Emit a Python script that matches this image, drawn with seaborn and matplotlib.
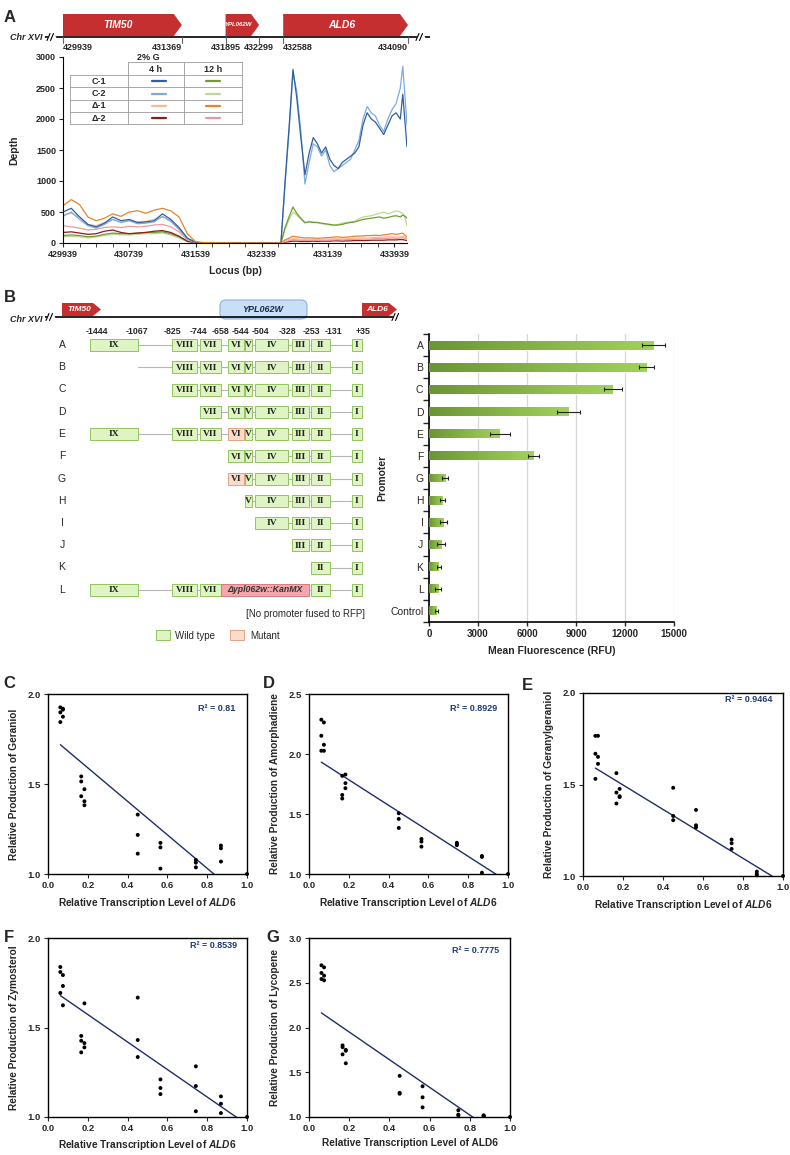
import numpy as np
import pandas as pd
import matplotlib
matplotlib.use('Agg')
import matplotlib.pyplot as plt
import seaborn as sns
from matplotlib.patches import Polygon, Rectangle, FancyBboxPatch
from matplotlib.colors import LinearSegmentedColormap

W, H = 790, 1155

# ---------------- A: read depth around ALD6 ----------------
locus = [429939, 430039, 430139, 430239, 430339, 430439, 430539, 430639, 430739, 430839,
         430939, 431039, 431139, 431239, 431339, 431439, 431539,
         431639, 431839, 432039, 432239, 432439, 432569,
         432619, 432669, 432714, 432759, 432809, 432859, 432909, 432959,
         433009, 433059, 433109, 433159, 433209, 433259, 433309, 433359, 433409, 433459,
         433509, 433559, 433609, 433659, 433709, 433759, 433809, 433859, 433909, 433959,
         434009, 434039, 434069, 434090]

c1_4h = [500, 560, 420, 300, 260, 320, 420, 360, 380, 330, 340, 360, 470, 380, 250, 80, 10,
         5, 3, 2, 1, 1, 2,
         1000, 1900, 2800, 2350, 1700, 1100, 1450, 1700, 1600, 1450, 1550, 1350, 1250, 1200,
         1300, 1350, 1400, 1450, 1550, 1900, 2100, 2000, 1950, 1850, 1750, 1900, 2050, 2100,
         2000, 2400, 1900, 1550]
c2_4h = [430, 500, 380, 280, 240, 300, 380, 330, 360, 310, 320, 340, 430, 350, 220, 70, 8,
         4, 2, 1, 1, 1, 2,
         950, 1850, 2750, 2450, 1800, 950, 1300, 1600, 1550, 1400, 1500, 1250, 1150, 1200,
         1250, 1300, 1350, 1500, 1650, 2000, 2200, 2100, 2050, 1900, 1800, 2000, 2150, 2250,
         2500, 2850, 2300, 1900]
d1_4h = [460, 480, 420, 300, 280, 330, 380, 340, 360, 340, 350, 380, 420, 360, 220, 70, 8,
         4, 2, 1, 1, 1, 1,
         30, 55, 70, 70, 60, 55, 60, 60, 55, 60, 60, 65, 70, 70, 65, 70, 75, 80, 80, 85,
         80, 85, 90, 90, 95, 100, 100, 95, 100, 110, 90, 80]
d2_4h = [170, 180, 160, 140, 150, 190, 210, 170, 150, 160, 170, 190, 200, 170, 110, 30, 3,
         2, 1, 1, 0, 0, 1,
         12, 22, 30, 30, 25, 25, 25, 30, 25, 30, 30, 30, 35, 35, 30, 35, 35, 40, 40, 40,
         40, 45, 45, 45, 45, 50, 50, 50, 55, 55, 45, 40]
c1_12h = [120, 130, 120, 100, 110, 140, 160, 150, 150, 160, 170, 170, 180, 150, 100, 30, 3,
          2, 1, 1, 0, 0, 1,
          250, 430, 580, 480, 400, 330, 340, 330, 330, 320, 310, 300, 290, 290, 300, 320,
          330, 340, 360, 380, 390, 400, 410, 420, 400, 410, 430, 440, 420, 450, 430, 400]
c2_12h = [100, 110, 100, 80, 100, 120, 140, 130, 130, 140, 150, 150, 160, 130, 80, 20, 2,
          1, 1, 0, 0, 0, 1,
          220, 380, 500, 450, 380, 320, 350, 340, 330, 310, 300, 290, 280, 300, 320, 330,
          340, 350, 390, 420, 430, 440, 460, 480, 500, 470, 490, 520, 500, 480, 400, 280]
d1_12h = [600, 700, 620, 420, 360, 400, 470, 430, 500, 520, 480, 530, 560, 520, 420, 150, 20,
          8, 4, 2, 1, 1, 3,
          50, 80, 110, 100, 90, 80, 85, 80, 75, 80, 85, 90, 95, 100, 90, 95, 100, 110, 110,
          115, 120, 120, 125, 120, 130, 140, 150, 140, 150, 160, 120, 100]
d2_12h = [280, 260, 240, 210, 220, 250, 260, 250, 270, 260, 270, 290, 300, 260, 180, 50, 5,
          3, 2, 1, 0, 0, 1,
          25, 40, 55, 50, 45, 40, 45, 45, 40, 45, 45, 50, 50, 55, 50, 55, 55, 60, 60, 65,
          60, 65, 70, 70, 70, 75, 80, 75, 80, 85, 70, 60]

strains = ['C-1', 'C-2', 'Δ-1', 'Δ-2']
depth_4h = [c1_4h, c2_4h, d1_4h, d2_4h]
depth_12h = [c1_12h, c2_12h, d1_12h, d2_12h]
colors_4h = ['#2f5f9e', '#7eaae2', '#f6bd92', '#8a1d1d']
colors_12h = ['#6f9c34', '#c0d895', '#e6832e', '#ea9a9e']

genes = ['TIM50', 'YPL062W', 'ALD6']
gene_start = [429939, 431895, 432588]
gene_end = [431369, 432299, 434090]
gene_ticks = [429939, 431369, 431895, 432299, 432588, 434090]

# ---------------- B: promoter truncations ----------------
promoters = ['A', 'B', 'C', 'D', 'E', 'F', 'G', 'H', 'I', 'J', 'K', 'L', 'Control']
fluor_mean = [13730, 13330, 11250, 8550, 4330, 6390, 980, 820, 880, 740, 610, 570, 470]
fluor_err = [690, 450, 560, 690, 620, 350, 200, 170, 200, 220, 140, 190, 80]

constructs = {
    'A': ['IX', 'VIII', 'VII', 'VI', 'V', 'IV', 'III', 'II', 'I'],
    'B': ['VIII', 'VII', 'VI', 'V', 'IV', 'III', 'II', 'I'],
    'C': ['VIII', 'VII', 'VI', 'V', 'IV', 'III', 'II', 'I'],
    'D': ['VII', 'VI', 'V', 'IV', 'III', 'II', 'I'],
    'E': ['IX', 'VIII', 'VII', 'VI*', 'V', 'IV', 'III', 'II', 'I'],
    'F': ['VI', 'V', 'IV', 'III', 'II', 'I'],
    'G': ['VI*', 'V', 'IV', 'III', 'II', 'I'],
    'H': ['V', 'IV', 'III', 'II', 'I'],
    'I': ['IV', 'III', 'II', 'I'],
    'J': ['III', 'II', 'I'],
    'K': ['II', 'I'],
    'L': ['IX', 'VIII', 'VII', 'KAN', 'II', 'I'],
}
promoter_pos = ['-1444', '-1067', '-825', '-744', '-658', '-544', '-504', '-328', '-253', '-131', '+35']

# ---------------- C-G: production vs ALD6 transcription ----------------
ald6_level = [0.062, 0.062, 0.062, 0.075, 0.075, 0.075, 0.167, 0.167, 0.167,
              0.183, 0.183, 0.183, 0.451, 0.451, 0.451, 0.565, 0.565, 0.565,
              0.743, 0.743, 0.743, 0.869, 0.869, 0.869, 1.0]
geraniol = [1.926, 1.898, 1.844, 1.918, 1.913, 1.874, 1.542, 1.514, 1.432,
            1.471, 1.404, 1.382, 1.330, 1.217, 1.113, 1.173, 1.148, 1.030,
            1.078, 1.063, 1.037, 1.158, 1.143, 1.069, 1.0]
amorphadiene = [2.286, 2.152, 2.027, 2.263, 2.077, 2.027, 1.818, 1.659, 1.629,
                1.829, 1.757, 1.715, 1.506, 1.459, 1.384, 1.292, 1.270, 1.228,
                1.260, 1.250, 1.240, 1.150, 1.142, 1.011, 1.0]
geranylgeraniol = [1.766, 1.668, 1.531, 1.766, 1.651, 1.613, 1.562, 1.456, 1.396,
                   1.476, 1.436, 1.431, 1.482, 1.328, 1.305, 1.361, 1.277, 1.266,
                   1.199, 1.179, 1.148, 1.024, 1.011, 1.004, 1.0]
zymosterol = [1.838, 1.810, 1.693, 1.793, 1.732, 1.624, 1.453, 1.426, 1.361,
              1.635, 1.413, 1.389, 1.667, 1.430, 1.335, 1.210, 1.162, 1.128,
              1.283, 1.173, 1.032, 1.115, 1.074, 1.022, 1.0]
lycopene = [2.695, 2.609, 2.542, 2.672, 2.579, 2.527, 1.800, 1.780, 1.700,
            1.750, 1.740, 1.600, 1.460, 1.270, 1.260, 1.343, 1.220, 1.108,
            1.075, 1.026, 1.018, 1.019, 1.011, 1.011, 1.0]
# trend lines as drawn in the figure: (slope, intercept)
fit_geraniol = (-0.931, 1.776)
fit_amorphadiene = (-1.064, 1.998)
fit_geranylgeraniol = (-0.668, 1.631)
fit_zymosterol = (-0.768, 1.726)
fit_lycopene = (-1.546, 2.259)


sns.set_style('ticks')
plt.rcParams['font.family'] = ['Liberation Sans', 'DejaVu Sans']
plt.rcParams['mathtext.fontset'] = 'custom'
plt.rcParams['mathtext.it'] = 'Liberation Sans:italic:bold'
plt.rcParams['mathtext.rm'] = 'Liberation Sans:bold'
plt.rcParams['mathtext.bf'] = 'Liberation Sans:bold'
plt.rcParams['axes.edgecolor'] = 'black'

fig = plt.figure(figsize=(W / 100, H / 100), dpi=100)


def px_axes(left, top, right, bottom):
    return fig.add_axes([left / W, 1 - bottom / H, (right - left) / W, (bottom - top) / H])


# overlay in pixel coordinates for the schematics
ov = fig.add_axes([0, 0, 1, 1])
ov.set_xlim(0, W)
ov.set_ylim(H, 0)
ov.axis('off')
ov.set_zorder(10)

BOLD = dict(fontweight='bold')


def chr_line(y, x0, x1, breaks):
    ov.plot([x0, x1], [y, y], color='black', lw=1.2, solid_capstyle='butt')
    for xb in breaks:
        ov.plot([xb - 2.5, xb + 2.5], [y, y], color='white', lw=2.5)
        for dx in (-2.5, 1.0):
            ov.plot([xb + dx - 1.5, xb + dx + 1.5], [y + 3.5, y - 3.5], color='black', lw=0.8)


def arrow_patch(ax, x0, x1, y0, y1, tip, color):
    ym = (y0 + y1) / 2
    pts = [(x0, y0), (x1 - tip, y0), (x1, ym), (x1 - tip, y1), (x0, y1)]
    ax.add_patch(Polygon(pts, closed=True, fc=color, ec='none', clip_on=False))


# ---------------- panel A: gene track ----------------
ov.text(4, 18, 'A', fontsize=12, va='center', **BOLD)
ov.text(26, 38, 'Chr XVI', fontsize=6.5, style='italic', ha='center', va='center', **BOLD)
chr_line(37, 45, 430, [51, 420])

axg = px_axes(63, 5, 408, 60)
axg.set_xlim(429939, 434090)
axg.set_ylim(60, 5)
axg.axis('off')
axg.set_zorder(11)
tip_bp = 8 * (434090 - 429939) / 345
for g, s, e in zip(genes, gene_start, gene_end):
    arrow_patch(axg, s, e, 14, 36, tip_bp, '#c62f2f')
    small = g == 'YPL062W'
    axg.text((s + e - tip_bp) / 2, 25, g, color='white', ha='center', va='center',
             fontsize=4.3 if small else 7.5, style='italic', **BOLD)
tick_align = ['left', 'right', 'center', 'center', 'left', 'right']
for t, al in zip(gene_ticks, tick_align):
    axg.plot([t, t], [37, 43], color='#666666', lw=0.8, clip_on=False)
    axg.text(t, 48, str(t), ha=al, va='center', fontsize=6.5, **BOLD)

# ---------------- panel A: depth plot ----------------
axA = px_axes(63, 57, 407, 243)
rows = []
for name, d4, d12 in zip(strains, depth_4h, depth_12h):
    for loc, v in zip(locus, d4):
        rows.append((loc, v, name + ' 4 h'))
    for loc, v in zip(locus, d12):
        rows.append((loc, v, name + ' 12 h'))
dfA = pd.DataFrame(rows, columns=['locus', 'depth', 'series'])
palette = {}
for name, c4, c12 in zip(strains, colors_4h, colors_12h):
    palette[name + ' 4 h'] = c4
    palette[name + ' 12 h'] = c12
order = ['C-2 12 h', 'C-1 12 h', 'Δ-2 4 h', 'Δ-2 12 h', 'Δ-1 4 h',
         'C-2 4 h', 'C-1 4 h', 'Δ-1 12 h']
sns.lineplot(data=dfA, x='locus', y='depth', hue='series', hue_order=order,
             palette=palette, linewidth=0.9, legend=False, estimator=None, ax=axA)
axA.set_xlim(429939, 434090)
axA.set_ylim(0, 3000)
axA.set_yticks(range(0, 3001, 500))
axA.set_xticks([429939, 430739, 431539, 432339, 433139, 433939])
axA.set_xticks(np.arange(429939, 434090, 200), minor=True)
axA.tick_params(labelsize=6.5, length=3, width=0.8, pad=2)
axA.tick_params(which='minor', length=3, width=0.6)
for lab in axA.get_xticklabels() + axA.get_yticklabels():
    lab.set_fontweight('bold')
axA.set_xlabel('Locus (bp)', fontsize=7.5, labelpad=5, **BOLD)
axA.set_ylabel('Depth', fontsize=7.5, labelpad=12, **BOLD)
sns.despine(ax=axA)
axA.patch.set_visible(False)

# legend table
gc = '#9a9a9a'
ov.plot([128, 242], [62, 62], color=gc, lw=0.6)
for yy in [75, 87.3, 99.7, 112, 124.3]:
    ov.plot([70, 242], [yy, yy], color=gc, lw=0.6)
ov.plot([70, 70], [75, 124.3], color=gc, lw=0.6)
for xx in [128, 184, 242]:
    ov.plot([xx, xx], [62, 124.3], color=gc, lw=0.6)
ov.text(148, 57.5, '2% G', ha='center', va='center', fontsize=6.5, **BOLD)
ov.text(156, 69, '4 h', ha='center', va='center', fontsize=6.5, **BOLD)
ov.text(213, 69, '12 h', ha='center', va='center', fontsize=6.5, **BOLD)
for i, (name, c4, c12) in enumerate(zip(strains, colors_4h, colors_12h)):
    yy = 81.2 + 12.3 * i
    ov.text(99, yy, name, ha='center', va='center', fontsize=6.5, **BOLD)
    ov.plot([152, 166], [yy, yy], color=c4, lw=1.6)
    ov.plot([206, 220], [yy, yy], color=c12, lw=1.6)

# ---------------- panel B: promoter schematic ----------------
ov.text(4, 298, 'B', fontsize=12, va='center', **BOLD)
ov.text(26, 320, 'Chr XVI', fontsize=6.5, style='italic', ha='center', va='center', **BOLD)
chr_line(317, 45, 400, [50, 396])
arrow_patch(ov, 62, 101, 303, 316, 8, '#c62f2f')
ov.text(79, 309.5, 'TIM50', color='white', ha='center', va='center', fontsize=6,
        style='italic', **BOLD)
arrow_patch(ov, 362, 397, 303, 316, 8, '#c62f2f')
ov.text(377, 309.5, 'ALD6', color='white', ha='center', va='center', fontsize=6,
        style='italic', **BOLD)
ov.add_patch(FancyBboxPatch((222, 302), 83, 15, boxstyle='round,pad=2,rounding_size=6',
                            fc='#c9def7', ec='#8db0e0', lw=0.8))
ov.text(263, 309.5, 'YPL062W', ha='center', va='center', fontsize=6.5, color='#1c2a44',
        style='italic', **BOLD)

pos_x = [97, 137, 172, 198, 220, 240, 260, 287, 311, 333, 363]
for lab, xx in zip(promoter_pos, pos_x):
    ov.text(xx, 331, lab, ha='center', va='center', fontsize=6.3, **BOLD)

elem_x = {'IX': (90, 138), 'VIII': (172, 197), 'VII': (200, 221), 'VI': (228, 244),
          'V': (245, 252), 'IV': (255, 288), 'III': (292, 309), 'II': (311, 330),
          'I': (352, 362), 'KAN': (221, 309)}
for i, p in enumerate(promoters[:-1]):
    y = 345 + 22.25 * i
    ov.text(62, y, p, ha='center', va='center', fontsize=7.5)
    els = constructs[p]
    x_start = 138 if p == 'B' else elem_x[els[0].rstrip('*')][0]
    ov.plot([x_start, elem_x['I'][0]], [y, y], color='#b5b5b5', lw=0.8, zorder=1)
    for el in els:
        key = el.rstrip('*')
        x0, x1 = elem_x[key]
        if key == 'KAN':
            fc, ec = '#f4a6ab', '#d97a81'
        elif el.endswith('*'):
            fc, ec = '#fbdcca', '#e2a383'
        else:
            fc, ec = '#def4c2', '#94c361'
        ov.add_patch(Rectangle((x0, y - 6), x1 - x0, 12, fc=fc, ec=ec, lw=0.7, zorder=2))
        if key == 'KAN':
            ov.text((x0 + x1) / 2, y, 'Δypl062w::KanMX', ha='center', va='center',
                    fontsize=6.3, style='italic', color='#333333', zorder=3, **BOLD)
        else:
            ov.text((x0 + x1) / 2, y + 0.3, key, ha='center', va='center', fontsize=6.8,
                    family='Liberation Serif', color='#222222', zorder=3, **BOLD)
ov.text(365, 614, '[No promoter fused to RFP]', ha='right', va='center', fontsize=7)
ov.add_patch(Rectangle((156, 630), 14, 10, fc='#def4c2', ec='#94c361', lw=0.7))
ov.text(175, 636, 'Wild type', va='center', fontsize=7)
ov.add_patch(Rectangle((230, 630), 14, 10, fc='#fbdcca', ec='#e2a383', lw=0.7))
ov.text(250, 636, 'Mutant', va='center', fontsize=7)

# ---------------- panel B: fluorescence bars ----------------
axB = px_axes(429, 334, 674, 622)
dfB = pd.DataFrame({'promoter': promoters, 'rfu': fluor_mean})
sns.barplot(data=dfB, x='rfu', y='promoter', orient='h', width=0.4, color='#8cbf4a',
            ax=axB, zorder=2)
cmap = LinearSegmentedColormap.from_list('bar', ['#6b9534', '#a2d25c'])
grad = np.linspace(0, 1, 128).reshape(1, -1)
for p in list(axB.patches):
    x, y, w, h = p.get_x(), p.get_y(), p.get_width(), p.get_height()
    im = axB.imshow(grad, cmap=cmap, extent=[x, x + w, y + h, y], aspect='auto', zorder=3)
    im.set_clip_path(p)
    p.set_facecolor('none')
axB.errorbar(fluor_mean, np.arange(len(promoters)), xerr=fluor_err, fmt='none',
             ecolor='#222222', elinewidth=0.8, capsize=1.5, capthick=0.8, zorder=4)
axB.set_xlim(0, 15000)
axB.set_ylim(len(promoters) - 0.5, -0.5)
axB.set_xticks(range(0, 15001, 3000))
axB.xaxis.grid(True, color='#d6d6d6', lw=0.9)
axB.set_axisbelow(True)
axB.set_yticks(np.arange(-0.5, len(promoters), 1), minor=True)
axB.tick_params(axis='y', which='major', length=0, labelsize=7.5, pad=4)
axB.tick_params(axis='y', which='minor', length=4, width=1)
axB.tick_params(axis='x', length=3, width=1, labelsize=7, pad=2)
for lab in axB.get_xticklabels():
    lab.set_fontweight('bold')
axB.set_xlabel('Mean Fluorescence (RFU)', fontsize=7.5, labelpad=5, **BOLD)
axB.set_ylabel('Promoter', fontsize=7.5, labelpad=2, **BOLD)
sns.despine(ax=axB)
for s in ['left', 'bottom']:
    axB.spines[s].set_linewidth(1.2)
axB.patch.set_visible(False)


# ---------------- panels C-G ----------------
def scatter_panel(box, letter, letter_xy, yvals, fit, ylim, ylabel, r2, r2_xy, xlabel):
    ax = px_axes(*box)
    sns.scatterplot(x=ald6_level, y=yvals, color='black', s=8, edgecolor='none', ax=ax,
                    zorder=3, clip_on=False)
    xs = np.array([ald6_level[0], ald6_level[-1]])
    ax.plot(xs, fit[0] * xs + fit[1], color='#1f2d6b', lw=1.0, zorder=2)
    ax.set_xlim(0, 1)
    ax.set_ylim(*ylim)
    xt = np.arange(0, 1.01, 0.2)
    ax.set_xticks(xt)
    ax.set_xticklabels([f'{v:.1f}' for v in xt])
    yt = np.arange(ylim[0], ylim[1] + 0.01, 0.5)
    ax.set_yticks(yt)
    ax.set_yticklabels([f'{v:.1f}' for v in yt])
    ax.tick_params(labelsize=6.8, length=3, width=0.8, pad=2)
    for lab in ax.get_xticklabels() + ax.get_yticklabels():
        lab.set_fontweight('bold')
    ax.set_xlabel(xlabel, fontsize=7.3, labelpad=4, **BOLD)
    ax.set_ylabel(ylabel, fontsize=7.3, labelpad=6, **BOLD)
    for s in ax.spines.values():
        s.set_linewidth(1.0)
    ax.text(r2_xy[0], r2_xy[1], r2, transform=ax.transAxes, ha='right', va='center',
            fontsize=6.5, color='#1f3a78', **BOLD)
    ov.text(letter_xy[0], letter_xy[1], letter, fontsize=12, va='center', **BOLD)
    ax.patch.set_visible(False)
    return ax


xl_it = 'Relative Transcription Level of $\\mathit{ALD6}$'
scatter_panel((48, 694, 247, 874), 'C', (3, 684), geraniol, fit_geraniol, (1.0, 2.0),
              'Relative Production of Geraniol', 'R² = 0.81', (0.94, 0.92), xl_it)
scatter_panel((309, 694, 508, 874), 'D', (263, 684), amorphadiene, fit_amorphadiene,
              (1.0, 2.5), 'Relative Production of Amorphadiene', 'R² = 0.8929',
              (0.945, 0.92), xl_it)
scatter_panel((583, 693, 783, 876), 'E', (522, 686), geranylgeraniol, fit_geranylgeraniol,
              (1.0, 2.0), 'Relative Production of Geranylgeraniol', 'R² = 0.9464',
              (0.945, 0.965), xl_it)
scatter_panel((48, 938, 247, 1117), 'F', (4, 938), zymosterol, fit_zymosterol,
              (1.0, 2.0), 'Relative Production of Zymosterol', 'R² = 0.8539',
              (0.95, 0.96), xl_it)
scatter_panel((309, 938, 510, 1117), 'G', (266, 938), lycopene, fit_lycopene,
              (1.0, 3.0), 'Relative Production of Lycopene', 'R² = 0.7775',
              (0.945, 0.93), 'Relative Transcription Level of ALD6')

fig.savefig('out.png', dpi=100)
